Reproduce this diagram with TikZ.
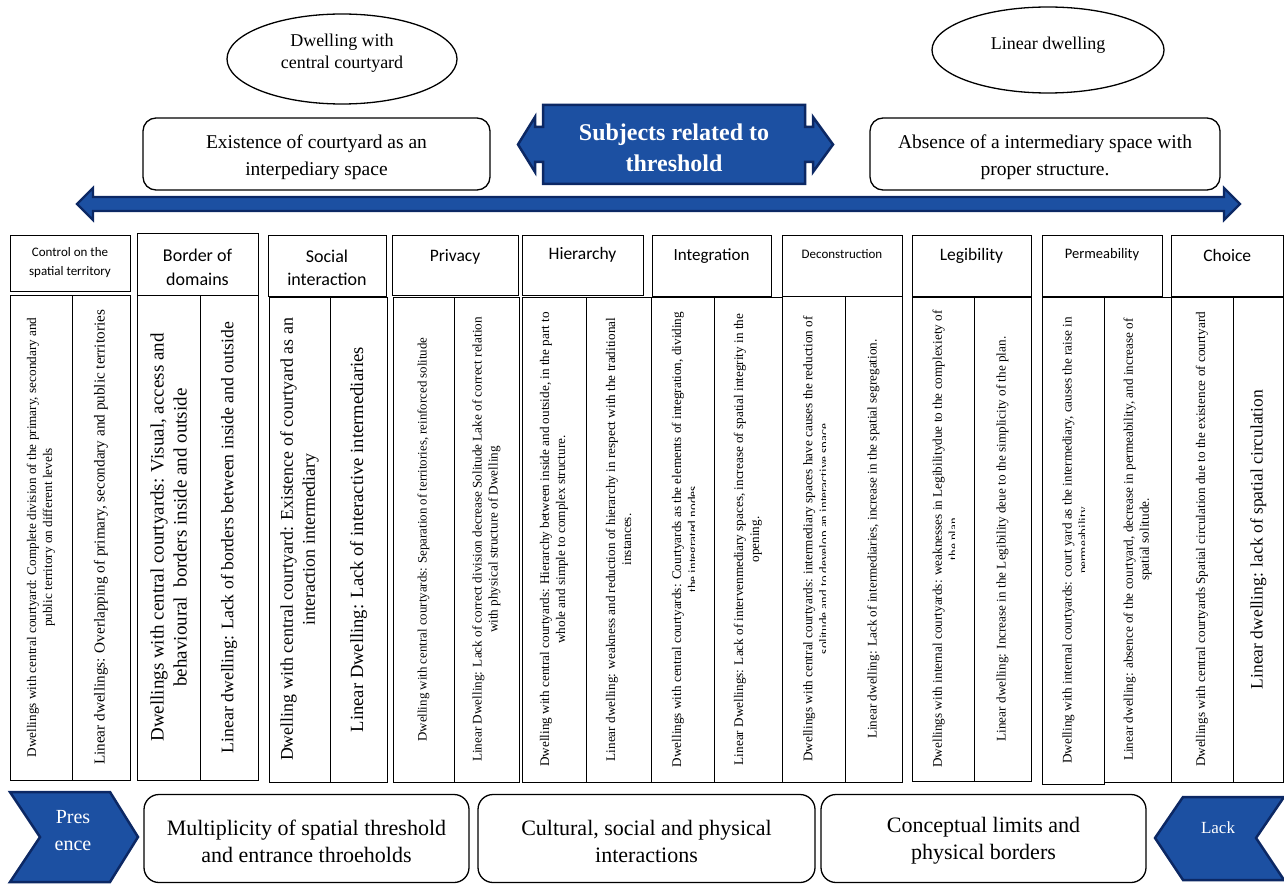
\documentclass[tikz,border=0pt]{standalone}
\usepackage{fontspec}
\setmainfont{Liberation Serif}
\newfontfamily\hdfont{Carlito}
\usetikzlibrary{shapes.geometric}
\definecolor{tblue}{RGB}{28,80,162}
\definecolor{tnavy}{RGB}{12,40,100}
\newcommand\fsz[2]{\fontsize{#1}{#2}\selectfont}

\begin{document}
\begin{tikzpicture}[x=1pt,y=-1pt,
  oval/.style={ellipse, draw, line width=1.3pt, inner sep=0pt},
  rbox/.style={draw, rounded corners=13pt, line width=1.3pt, inner sep=0pt},
  hbox/.style={draw, line width=1pt, inner sep=0pt},
  htext/.style={align=center, inner sep=0pt},
  cell/.style={draw, line width=1pt, rotate=90, inner sep=0pt, align=center},
  ctext/.style={rotate=90, inner sep=0pt, align=center},
  small/.style={font=\fsz{13.2}{16}},
  bluesh/.style={fill=tblue, draw=tnavy, line width=2.5pt, line join=miter},
  wtext/.style={text=white, align=center, inner sep=0pt}]
\useasboundingbox (0,0) rectangle (1284,885);

% ---- top: dwelling types ----
\node[oval, minimum width=230pt, minimum height=90pt] (ovc) at (342,59) {};
\node[htext, font=\fsz{18}{22}] (ovct) at (342,53) {Dwelling with\\central courtyard};
\node[oval, minimum width=232pt, minimum height=86pt] (ovl) at (1048,50) {};
\node[htext, font=\fsz{18}{22}] (ovlt) at (1048,45) {Linear dwelling};

\node[rbox, minimum width=347pt, minimum height=72pt] (exist) at (316.5,154) {};
\node[htext, font=\fsz{19.5}{27}] (existt) at (316.5,157) {Existence of courtyard as an\\interpediary space};
\node[rbox, minimum width=350pt, minimum height=72pt] (absent) at (1045,154) {};
\node[htext, font=\fsz{19.5}{27}] (absentt) at (1045,157) {Absence of a intermediary space with\\proper structure.};

% central double-headed banner
\draw[bluesh] (543,105) -- (805,105) -- (805,127) -- (813,127) -- (813,117) -- (833,144.5)
  -- (813,172) -- (813,162) -- (805,162) -- (805,184) -- (543,184) -- (543,162) -- (535,162)
  -- (535,172) -- (518,144.5) -- (535,117) -- (535,127) -- (543,127) -- cycle;
\node[wtext, font=\fsz{24}{31}\bfseries] (subj) at (674,148) {Subjects related to\\threshold};

% long double arrow
\draw[bluesh, line width=2.2pt] (77,204) -- (93,188) -- (93,197) -- (1224,197) -- (1224,188)
  -- (1240,204) -- (1224,220) -- (1224,211) -- (93,211) -- (93,220) -- cycle;

% ---- column headers ----
\node[hbox, minimum width=120pt, minimum height=55pt] (h1) at (70,263.5) {};
\node[htext, font=\hdfont\fsz{13}{19}] (h1t) at (70,262.5) {Control on the\\spatial territory};
\node[hbox, minimum width=121pt, minimum height=61pt] (h2) at (197.5,264.5) {};
\node[htext, font=\hdfont\fsz{18}{24}] (h2t) at (197.5,267.5) {Border of\\domains};
\node[hbox, minimum width=118pt, minimum height=60pt] (h3) at (327,266) {};
\node[htext, font=\hdfont\fsz{18}{23}] (h3t) at (327,267.5) {Social\\interaction};
\node[hbox, minimum width=126pt, minimum height=59pt] (h4) at (455,265.5) {};
\node[htext, font=\hdfont\fsz{17.5}{21}] (h4t) at (455,257) {Privacy};
\node[hbox, minimum width=121pt, minimum height=59pt] (h5) at (582.5,265.5) {};
\node[htext, font=\hdfont\fsz{17.5}{21}] (h5t) at (582.5,255) {Hierarchy};
\node[hbox, minimum width=119pt, minimum height=60pt] (h6) at (711.5,266) {};
\node[htext, font=\hdfont\fsz{17}{21}] (h6t) at (711.5,256) {Integration};
\node[hbox, minimum width=120pt, minimum height=60pt] (h7) at (842,266) {};
\node[htext, font=\hdfont\fsz{13}{16}] (h7t) at (842,254) {Deconstruction};
\node[hbox, minimum width=119pt, minimum height=60pt] (h8) at (971.5,266) {};
\node[htext, font=\hdfont\fsz{17.5}{21}] (h8t) at (971.5,256) {Legibility};
\node[hbox, minimum width=120pt, minimum height=60pt] (h9) at (1102,266) {};
\node[htext, font=\hdfont\fsz{14.5}{17}] (h9t) at (1102,255) {Permeability};
\node[hbox, minimum width=112.5pt, minimum height=60pt] (h10) at (1227.25,266) {};
\node[htext, font=\hdfont\fsz{17.5}{21}] (h10t) at (1227.25,255) {Choice};

% ---- column bodies (text reads bottom to top) ----
\node[cell, small, minimum width=485pt, minimum height=62pt] (c1l) at (41,537.5)
  {Dwellings with central courtyard: Complete division of the primary, secondary and\\public territory on different levels};
\node[cell, minimum width=485pt, minimum height=58pt, font=\fsz{15.2}{18}] (c1r) at (101,537.5)
  {Linear dwellings: Overlapping of primary, secondary and public territories};

\node[cell, minimum width=485pt, minimum height=63pt, font=\fsz{19}{23}] (c2l) at (168.5,537.5)
  {Dwellings with central courtyards: Visual, access and\\behavioural\ \ borders inside and outside};
\node[cell, minimum width=485pt, minimum height=58pt, font=\fsz{17.7}{22}] (c2r) at (229,537.5)
  {Linear dwelling: Lack of borders between inside and outside};

\node[cell, minimum width=485pt, minimum height=61pt, font=\fsz{17.9}{22}] (c3l) at (299.5,539.5)
  {Dwelling with central courtyard: Existence of courtyard as an\\interaction intermediary};
\node[cell, minimum width=485pt, minimum height=57pt, font=\fsz{18.6}{22}] (c3r) at (358.5,539.5)
  {Linear Dwelling: Lack of interactive intermediaries};

\node[cell, minimum width=485pt, minimum height=61pt, font=\fsz{12.9}{16}] (c4l) at (423.5,539.5)
  {Dwelling with central courtyards: Separation of territories, reinforced solitude};
\node[cell, small, minimum width=485pt, minimum height=65pt] (c4r) at (486.5,539.5)
  {Linear Dwelling: Lack of correct division decrease Solitude Lake of correct relation\\with physical structure of Dwelling};

\node[cell, small, minimum width=485pt, minimum height=64pt] (c5l) at (554,539.5)
  {Dwelling with central courtyards: Hierarchy between inside and outside, in the part to\\whole and simple to complex structure.};
\node[cell, small, minimum width=485pt, minimum height=65pt] (c5r) at (618.5,539.5)
  {Linear dwelling: weakness and reduction of hierarchy in respect with the traditional\\instances.};

% cells whose second line is cut off by the text frame
\node[cell, minimum width=485pt, minimum height=63pt] (c6l) at (682.5,539.5) {};
\begin{scope}
  \clip (651,297) rectangle (694,782);
  \node[ctext, small] (c6lt) at ([xshift=3.5pt]c6l.center)
    {Dwellings with central courtyards: Courtyards as the elements of integration, dividing\\the integrated nodes};
\end{scope}
\node[cell, small, minimum width=485pt, minimum height=68pt] (c6r) at (748,539.5)
  {Linear Dwellings: Lack of intervenmediary spaces, increase of spatial integrity in the\\opening.};

\node[cell, minimum width=486pt, minimum height=63pt] (c7l) at (813.5,539) {};
\begin{scope}
  \clip (782,296) rectangle (825,782);
  \node[ctext, small] (c7lt) at ([xshift=3.5pt]c7l.center)
    {Dwellings with central courtyards: intermediary spaces have causes the reduction of\\solitude and to develop an interactive space};
\end{scope}
\node[cell, small, minimum width=486pt, minimum height=57pt] (c7r) at (873.5,539)
  {Linear dwelling: Lack of intermediaries, increase in the spatial segregation.};

\node[cell, minimum width=484pt, minimum height=62pt] (c8l) at (943,539) {};
\begin{scope}
  \clip (912,297) rectangle (954.5,781);
  \node[ctext, small] (c8lt) at ([xshift=3.5pt]c8l.center)
    {Dwellings with internal courtyards: weaknesses in Legibilitydue to the complexiety of\\the plan};
\end{scope}
\node[cell, small, minimum width=484pt, minimum height=57pt] (c8r) at (1002.5,539)
  {Linear dwelling: Increase in the Legibility deue to the simplicity of the plan.};

\node[cell, minimum width=487pt, minimum height=62pt] (c9l) at (1073,540.5) {};
\begin{scope}
  \clip (1042,297) rectangle (1084.5,784);
  \node[ctext, small] (c9lt) at ([xshift=3.5pt]c9l.center)
    {Dwelling with internal courtyards: court yard as the intermediary, causes the raise in\\permeability};
\end{scope}
\node[cell, small, minimum width=485pt, minimum height=67pt] (c9r) at (1137.5,539.5)
  {Linear dwelling: absence of the courtyard, decrease in permeability, and increase of\\spatial solitude.};

\node[cell, small, minimum width=485pt, minimum height=62pt] (c10l) at (1202,539.5)
  {Dwellings with central courtyards Spatial circulation due to the existence of courtyard};
\node[cell, minimum width=485pt, minimum height=50.5pt, font=\fsz{17.5}{20}] (c10r) at (1258.25,539.5)
  {Linear dwelling: lack of spatial circulation};

% ---- bottom band ----
\draw[bluesh] (10,792) -- (110,792) -- (138,837) -- (110,882) -- (10,882) -- (40,837) -- cycle;
\node[wtext, font=\fsz{20}{27}] (pres) at (73,831) {Pres\\ence};

\node[rbox, rounded corners=15pt, minimum width=325pt, minimum height=88pt] (b1) at (306.5,838.5) {};
\node[htext, font=\fsz{22}{27}] (b1t) at (306.5,841) {Multiplicity of spatial threshold\\and entrance throeholds};
\node[rbox, rounded corners=15pt, minimum width=337pt, minimum height=88pt] (b2) at (646.5,838.5) {};
\node[htext, font=\fsz{22}{27}] (b2t) at (646.5,841) {Cultural, social and physical\\interactions};
\node[rbox, rounded corners=15pt, minimum width=325pt, minimum height=88pt] (b3) at (983.5,838.5) {};
\node[htext, font=\fsz{22}{27}] (b3t) at (983.5,841) {Conceptual limits and\\physical borders};

\draw[bluesh] (1155,838) -- (1183,797) -- (1284,797) -- (1256,838) -- (1284,880) -- (1183,880) -- cycle;
\node[wtext, font=\fsz{17}{20}] (lack) at (1218,828) {Lack};
\end{tikzpicture}
\end{document}
